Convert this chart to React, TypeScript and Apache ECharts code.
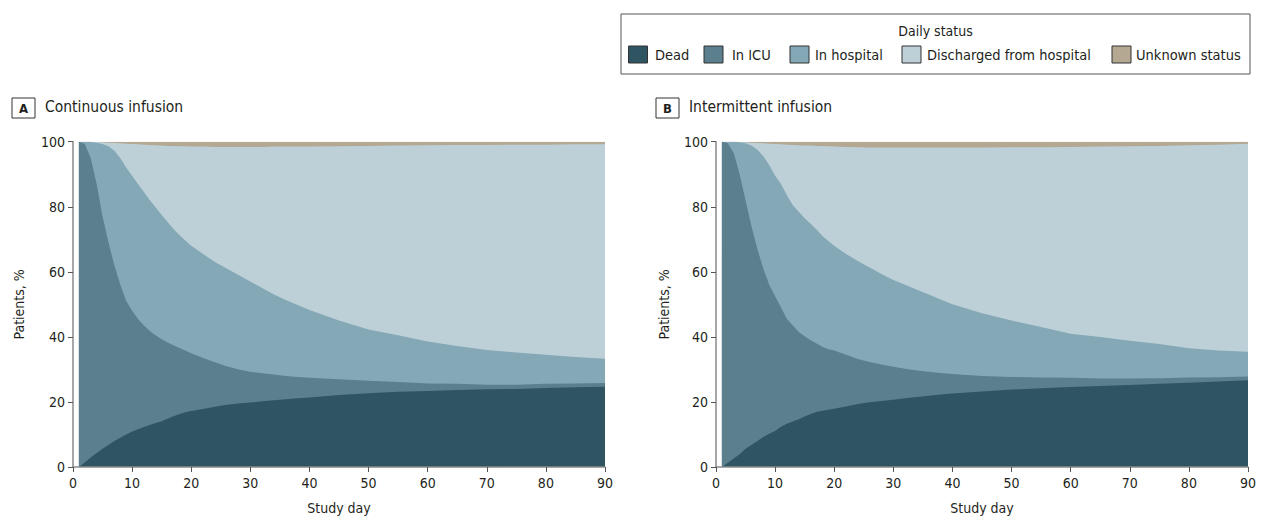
import React, { useEffect, useRef } from "react";
import * as echarts from "echarts";

const FONT = "'DejaVu Sans Condensed', 'Liberation Sans Narrow', sans-serif";

const days = [1, 2, 3, 4, 5, 6, 7, 8, 9, 10, 11, 12, 13, 14, 15, 16, 17, 18, 19, 20, 22, 24, 26, 28, 30, 32, 34, 36, 38, 40, 45, 50, 55, 60, 65, 70, 75, 80, 85, 90];

const statusNames = ["Dead", "In ICU", "In hospital", "Discharged from hospital", "Unknown status"];
const statusColors = ["#2f5563", "#5b7f8c", "#84a8b6", "#bdd0d8", "#b4a893"];

// Panel A – continuous infusion (upper boundary of each cumulative band, %)
const deadA = [0, 1.4, 2.9, 4.3, 5.6, 6.8, 8.0, 9.0, 10.0, 10.9, 11.6, 12.3, 12.9, 13.5, 14.1, 14.8, 15.6, 16.3, 16.8, 17.2, 17.8, 18.5, 19.1, 19.5, 19.8, 20.2, 20.5, 20.8, 21.1, 21.4, 22.1, 22.7, 23.1, 23.4, 23.7, 23.9, 24.0, 24.3, 24.5, 24.7];
const icuTopA = [100, 99.3, 95, 87, 77, 69, 62, 56, 51, 48, 45.5, 43.5, 41.8, 40.4, 39.3, 38.3, 37.4, 36.6, 35.8, 35, 33.5, 32.2, 31, 30, 29.3, 28.8, 28.4, 28, 27.7, 27.4, 27, 26.5, 26.1, 25.7, 25.6, 25.3, 25.3, 25.6, 25.7, 25.8];
const hospTopA = [100, 100, 99.9, 99.7, 99.3, 98.6, 97.2, 95, 92, 89.5, 87, 84.5, 82, 79.8, 77.5, 75.3, 73.2, 71.3, 69.6, 68, 65.5, 63, 61, 59, 57, 55, 53, 51.3, 49.8, 48.3, 45, 42.3, 40.5, 38.6, 37.2, 36, 35.2, 34.5, 33.8, 33.3];
const unknownA = [0, 0, 0, 0.1, 0.2, 0.3, 0.4, 0.5, 0.6, 0.7, 0.8, 0.9, 1.0, 1.1, 1.2, 1.3, 1.3, 1.4, 1.4, 1.5, 1.5, 1.6, 1.6, 1.6, 1.6, 1.6, 1.5, 1.5, 1.5, 1.5, 1.4, 1.3, 1.2, 1.1, 1.0, 1.0, 0.9, 0.9, 0.8, 0.8];

// Panel B – intermittent infusion (upper boundary of each cumulative band, %)
const deadB = [0, 1.3, 2.6, 3.9, 5.6, 6.8, 8.0, 9.2, 10.2, 11.1, 12.4, 13.3, 14.0, 14.7, 15.5, 16.3, 16.9, 17.3, 17.6, 17.9, 18.6, 19.4, 19.9, 20.3, 20.7, 21.1, 21.5, 21.9, 22.3, 22.6, 23.2, 23.8, 24.2, 24.6, 24.9, 25.2, 25.6, 25.9, 26.3, 26.7];
const icuTopB = [100, 99.5, 96.5, 90, 82, 74, 67, 61, 56, 52.5, 49, 45.5, 43.5, 41.5, 40.2, 39, 38, 37, 36.2, 35.8, 34.5, 33.2, 32.3, 31.5, 30.8, 30.2, 29.7, 29.3, 28.9, 28.6, 28, 27.7, 27.5, 27.4, 27.2, 27.2, 27.3, 27.5, 27.6, 27.8];
const hospTopB = [100, 100, 100, 99.8, 99.5, 98.8, 97.5, 95.5, 92.8, 89.5, 87, 83.5, 80.5, 78.5, 76.5, 74.8, 73, 71, 69.5, 68, 65.5, 63.3, 61.3, 59.3, 57.5, 56, 54.5, 53, 51.5, 50, 47.3, 45, 43, 41, 40, 38.8, 37.8, 36.5, 35.8, 35.4];
const unknownB = [0, 0, 0, 0.1, 0.2, 0.3, 0.4, 0.5, 0.6, 0.7, 0.8, 0.9, 1.0, 1.1, 1.2, 1.2, 1.3, 1.3, 1.4, 1.5, 1.6, 1.7, 1.8, 1.8, 1.8, 1.8, 1.8, 1.8, 1.8, 1.8, 1.8, 1.7, 1.7, 1.6, 1.5, 1.4, 1.3, 1.1, 0.9, 0.6];

const yTicks = { min: 0, max: 100, interval: 20 };
const xTicks = { min: 0, max: 90, interval: 10 };

// Upper edges of the cumulative bands: dead, +ICU, +hospital, +discharged, +unknown (=100)
function bandTops(dead: number[], icuTop: number[], hospTop: number[], unknown: number[]) {
  return [
    dead,
    icuTop,
    hospTop,
    unknown.map((u) => 100 - u),
    unknown.map(() => 100),
  ];
}

const GRID_TOP = 141.7;
const GRID_H = 325.3;
const GRID_W = 532;
const LEFT_A = 73;
const LEFT_B = 716;

export default function App() {
  const ref = useRef<HTMLDivElement>(null);

  useEffect(() => {
    if (!ref.current) return;
    const chart = echarts.init(ref.current, null, { renderer: "svg" });

    const axisLineStyle = { color: "#8a8a8a", width: 1.5 };
    const labelStyle = { color: "#231f20", fontSize: 14, fontFamily: FONT };

    const makeX = (gridIndex: number) => ({
      type: "value",
      gridIndex,
      ...xTicks,
      axisLine: { show: true, lineStyle: axisLineStyle },
      axisTick: { show: true, length: 5, lineStyle: { color: "#555", width: 1 } },
      axisLabel: { ...labelStyle, margin: 9 },
      splitLine: { show: false },
      z: 5,
    });
    const makeY = (gridIndex: number) => ({
      type: "value",
      gridIndex,
      ...yTicks,
      axisLine: { show: true, lineStyle: axisLineStyle },
      axisTick: { show: true, length: 5, lineStyle: { color: "#555", width: 1 } },
      axisLabel: { ...labelStyle, margin: 8 },
      splitLine: { show: false },
      z: 5,
    });

    const series: any[] = [];
    const panels = [
      bandTops(deadA, icuTopA, hospTopA, unknownA),
      bandTops(deadB, icuTopB, hospTopB, unknownB),
    ];
    panels.forEach((tops, p) => {
      // draw from the top band down so lower bands paint over higher ones
      for (let k = tops.length - 1; k >= 0; k--) {
        const vals = tops[k];
        series.push({
          type: "line",
          name: statusNames[k],
          xAxisIndex: p,
          yAxisIndex: p,
          data: days.map((d, i) => [d, vals[i]]),
          symbol: "none",
          showSymbol: false,
          lineStyle: { width: 0 },
          areaStyle: { color: statusColors[k], opacity: 1, origin: "start" },
          itemStyle: { color: statusColors[k] },
          silent: true,
        });
      }
    });

    // Legend drawn as graphics
    const swatchX = [628.5, 704, 790, 902, 1112];
    const legendTextX = [655, 732, 815, 927, 1136];
    const legendEls: any[] = [
      {
        type: "rect",
        shape: { x: 621, y: 14, width: 629, height: 60 },
        style: { fill: "#fff", stroke: "#555", lineWidth: 1 },
      },
      {
        type: "text",
        x: 935.5,
        y: 31,
        style: { text: "Daily status", fill: "#231f20", font: `14px ${FONT}`, align: "center", verticalAlign: "middle" },
      },
    ];
    statusNames.forEach((n, k) => {
      legendEls.push({
        type: "rect",
        shape: { x: swatchX[k], y: 46, width: 19, height: 17 },
        style: { fill: statusColors[k], stroke: "#333", lineWidth: 1 },
      });
      legendEls.push({
        type: "text",
        x: legendTextX[k],
        y: 54.5,
        style: { text: n, fill: "#231f20", font: `14.5px ${FONT}`, verticalAlign: "middle" },
      });
    });

    const panelTitle = (bx: number, letter: string, title: string) => [
      {
        type: "rect",
        shape: { x: bx, y: 98, width: 23, height: 20 },
        style: { fill: "#fff", stroke: "#333", lineWidth: 1 },
      },
      {
        type: "text",
        x: bx + 11.5,
        y: 108,
        style: { text: letter, fill: "#231f20", font: `bold 13px ${FONT}`, align: "center", verticalAlign: "middle" },
      },
      {
        type: "text",
        x: bx + 33,
        y: 107,
        style: { text: title, fill: "#231f20", font: `15.5px ${FONT}`, verticalAlign: "middle" },
      },
    ];

    const axisNames = (left: number, yNameX: number) => [
      {
        type: "text",
        x: yNameX,
        y: GRID_TOP + GRID_H / 2,
        rotation: Math.PI / 2,
        style: { text: "Patients, %", fill: "#231f20", font: `14px ${FONT}`, align: "center", verticalAlign: "middle" },
      },
      {
        type: "text",
        x: left + GRID_W / 2,
        y: 508,
        style: { text: "Study day", fill: "#231f20", font: `14px ${FONT}`, align: "center", verticalAlign: "middle" },
      },
    ];

    chart.setOption({
      animation: false,
      backgroundColor: "#ffffff",
      grid: [
        { left: LEFT_A, top: GRID_TOP, width: GRID_W, height: GRID_H },
        { left: LEFT_B, top: GRID_TOP, width: GRID_W, height: GRID_H },
      ],
      xAxis: [makeX(0), makeX(1)],
      yAxis: [makeY(0), makeY(1)],
      series,
      graphic: [
        ...legendEls,
        ...panelTitle(12, "A", "Continuous infusion"),
        ...panelTitle(656, "B", "Intermittent infusion"),
        ...axisNames(LEFT_A, 19),
        ...axisNames(LEFT_B, 664),
      ],
    });

    return () => chart.dispose();
  }, []);

  return (
    <div
      ref={ref}
      style={{ position: "fixed", left: 0, top: 0, width: 1265, height: 521 }}
    />
  );
}
